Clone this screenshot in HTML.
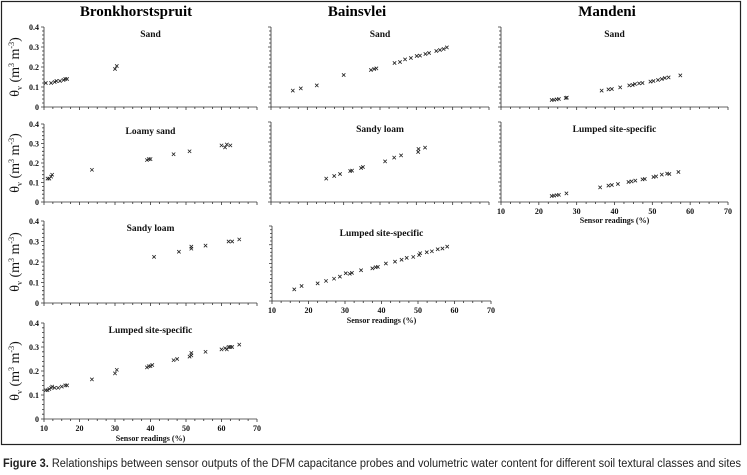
<!DOCTYPE html>
<html><head><meta charset="utf-8"><style>
body{margin:0;background:#fff;width:747px;height:475px;overflow:hidden}
svg{display:block}
.tk{font-family:"Liberation Serif",serif;font-weight:bold;font-size:8px;fill:#111}
.pt{font-family:"Liberation Serif",serif;font-weight:bold;font-size:9.5px;fill:#111}
.st{font-family:"Liberation Serif",serif;font-weight:bold;font-size:15px;fill:#000}
</style></head><body>
<svg id="fig" width="747" height="475" viewBox="0 0 747 475" xmlns="http://www.w3.org/2000/svg">
<rect x="1.5" y="1.5" width="739" height="443" fill="none" stroke="#222" stroke-width="1.2"/>
<text class="st" x="136" y="16" text-anchor="middle">Bronkhorstspruit</text>
<text class="st" x="357" y="16" text-anchor="middle">Bainsvlei</text>
<text class="st" x="607" y="16" text-anchor="middle">Mandeni</text>
<text x="3" y="467" textLength="738" lengthAdjust="spacingAndGlyphs" style="font-family:'Liberation Sans',sans-serif;font-size:11.5px;fill:#222"><tspan font-weight="bold">Figure 3.</tspan> Relationships between sensor outputs of the DFM capacitance probes and volumetric water content for different soil textural classes and sites</text>
</svg>
<script>
// Data: sensor readings (%) and volumetric water content
const bSandX=[10.5,12,13,13.5,14.5,15.5,16,16.5,30,30.5];
const bSandY=[0.12,0.12,0.125,0.13,0.13,0.135,0.14,0.14,0.19,0.205];
const bLoamySandX=[11,11.5,12,12.3,23.5,39,39.5,40,46.5,51,60,61,61.5,62.5];
const bLoamySandY=[0.12,0.12,0.13,0.14,0.165,0.215,0.22,0.22,0.245,0.26,0.29,0.28,0.295,0.29];
const bSandyLoamX=[41,48,51.5,51.5,55.5,62,63,65];
const bSandyLoamY=[0.225,0.25,0.265,0.275,0.28,0.3,0.3,0.31];
const bLumpedX=[10.5,11,11.5,12,12.3,13,14,15,16,16.5,23.5,30,30.5,39,39.5,40,40.5,46.5,47.5,51,51.5,51.5,55.5,60,61,61.5,62,62.5,63,65];
const bLumpedY=[0.12,0.12,0.125,0.13,0.135,0.13,0.13,0.135,0.14,0.14,0.165,0.19,0.205,0.215,0.22,0.22,0.225,0.245,0.25,0.26,0.265,0.275,0.28,0.29,0.295,0.29,0.3,0.3,0.3,0.31];
const vSandX=[16,18.2,22.6,30,37.5,38.4,39,44,45.5,46.9,48.5,50.1,51,52.5,53.5,55.5,56.5,57.5,58.4];
const vSandY=[0.082,0.093,0.108,0.16,0.185,0.19,0.193,0.22,0.225,0.238,0.245,0.255,0.257,0.265,0.27,0.28,0.285,0.29,0.298];
const vSandyLoamX=[25.2,27.4,29,31.8,32.3,34.8,35.3,41.4,43.9,45.8,50.5,50.6,52.4];
const vSandyLoamY=[0.117,0.13,0.14,0.155,0.157,0.17,0.175,0.203,0.222,0.233,0.25,0.265,0.272];
const vLumpedX=[16.1,18.1,22.5,24.8,27,28.6,30.2,31.3,31.9,34.4,37.5,38.4,39,41.2,43.7,45.5,46.9,48.7,50.3,50.6,52.4,53.8,55.4,56.7,58];
const vLumpedY=[0.062,0.08,0.094,0.107,0.119,0.13,0.148,0.145,0.15,0.164,0.174,0.18,0.182,0.2,0.21,0.22,0.23,0.235,0.245,0.255,0.26,0.265,0.276,0.28,0.29];
const mSandX=[23.4,24,24.7,25.3,27.1,27.4,36.6,38.4,39.3,41.5,43.9,44.8,45.4,46.5,47.4,49.5,50.3,51.5,52.5,53.3,54.3,57.4];
const mSandY=[0.035,0.036,0.038,0.04,0.045,0.047,0.082,0.088,0.09,0.098,0.108,0.11,0.115,0.118,0.12,0.127,0.13,0.135,0.14,0.145,0.148,0.158];
const mLumpedX=[23.4,24,24.7,25.3,27.3,36.2,38.4,39.3,40.9,43.7,44.5,45.5,47.4,48,50.3,51,52.5,53.9,54.5,56.9];
const mLumpedY=[0.03,0.032,0.034,0.036,0.043,0.073,0.082,0.085,0.09,0.1,0.103,0.107,0.113,0.115,0.125,0.128,0.137,0.142,0.14,0.15];
const xTicks=[10,20,30,40,50,60,70];
const yTicks=[0,0.1,0.2,0.3,0.4];

const NS="http://www.w3.org/2000/svg";
const svg=document.getElementById('fig');
function mk(tag,attrs,parent){const e=document.createElementNS(NS,tag);for(const k in attrs)e.setAttribute(k,attrs[k]);(parent||svg).appendChild(e);return e;}

function panel(name,x0,x1,y0,y1,title,xs,ys,showY,showX,xTitleY){
  const g=mk('g',{});
  
  
  const sx=v=>x0+(v-10)/60*(x1-x0);
  const sy=v=>y1-v/0.4*(y1-y0);
  let d=`M${x0},${y0}V${y1}H${x1}`;
  for(let v=0;v<=0.4001;v+=0.02){const yy=sy(v);d+=`M${x0-(Math.abs(v*10-Math.round(v*10))<1e-6?3:2)},${yy}H${x0}`;}
  for(let v=10;v<=70.01;v+=2.5){const xx=sx(v);d+=`M${xx},${y1}v${v%10===0?3:2}`;}
  const ax=mk('path',{d:d,stroke:'#333','stroke-width':0.8,fill:'none'},g);
  
  
  const t=mk('text',{class:'pt',x:(x0+x1)/2,y:y0+10,'text-anchor':'middle'},g);
  t.textContent=title;
  
  
  if(showY){
    yTicks.forEach(v=>{const l=mk('text',{class:'tk',x:x0-5,y:sy(v)+3,'text-anchor':'end'},g);l.textContent=v===0?'0':v.toFixed(1);
      
      });
    const yt=mk('text',{x:0,y:0,transform:`translate(${x0-25},${(y0+y1)/2}) rotate(-90)`,'text-anchor':'middle',style:"font-family:'Liberation Serif',serif;font-size:14px;fill:#111"},g);
    yt.innerHTML='θ<tspan font-size="8" dy="3">v</tspan><tspan dy="-3"> (m</tspan><tspan font-size="8" dy="-5">3</tspan><tspan dy="5"> m</tspan><tspan font-size="8" dy="-5">-3</tspan><tspan dy="5">)</tspan>';
    
    
  }
  if(showX){
    xTicks.forEach(v=>{const l=mk('text',{class:'tk',x:sx(v),y:y1+12,'text-anchor':'middle'},g);l.textContent=v;
      
      });
    const xt=mk('text',{class:'tk',x:(x0+x1)/2,y:xTitleY,'text-anchor':'middle'},g);
    xt.textContent='Sensor readings (%)';
    
    
  }
  xs.forEach((v,i)=>{const px=sx(v),py=sy(ys[i]);
    const m=mk('path',{d:`M${px-1.7},${py-1.7}L${px+1.7},${py+1.7}M${px-1.7},${py+1.7}L${px+1.7},${py-1.7}`,stroke:'#222','stroke-width':0.8},g);
    
    });
}
panel('bronkhorstspruit-sand',44,257,27,107,'Sand',bSandX,bSandY,true,false);
panel('bronkhorstspruit-loamy-sand',44,257,124,202,'Loamy sand',bLoamySandX,bLoamySandY,true,false);
panel('bronkhorstspruit-sandy-loam',44,257,221,303,'Sandy loam',bSandyLoamX,bSandyLoamY,true,false);
panel('bronkhorstspruit-lumped',44,257,323,419,'Lumped site-specific',bLumpedX,bLumpedY,true,true,441);
panel('bainsvlei-sand',271,489,27,107,'Sand',vSandX,vSandY,false,false);
panel('bainsvlei-sandy-loam',271,489,122,202,'Sandy loam',vSandyLoamX,vSandyLoamY,false,false);
panel('bainsvlei-lumped',272,491,226,301,'Lumped site-specific',vLumpedX,vLumpedY,false,true,323);
panel('mandeni-sand',501,728,27,107,'Sand',mSandX,mSandY,false,false);
panel('mandeni-lumped',501,728,122,202,'Lumped site-specific',mLumpedX,mLumpedY,false,true,223);
</script>
</body></html>
